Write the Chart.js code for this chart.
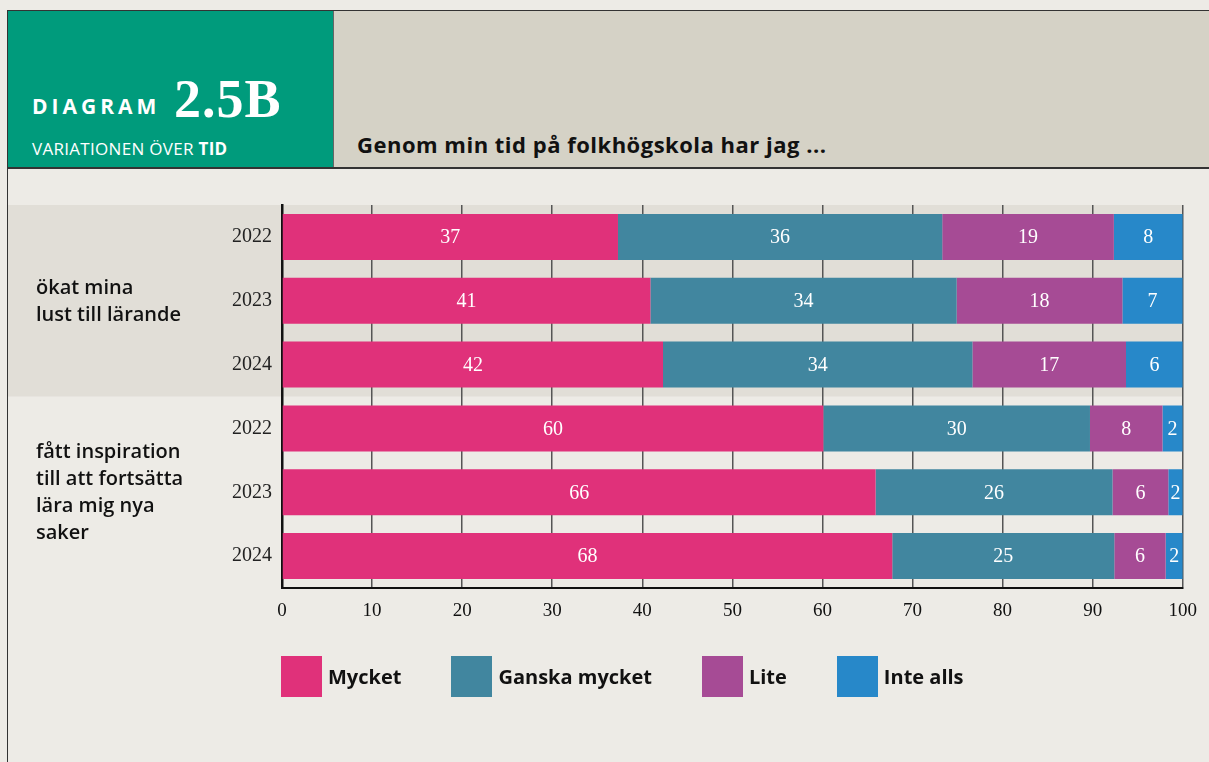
<!DOCTYPE html>
<html>
<head>
<meta charset="utf-8">
<script src="https://cdn.jsdelivr.net/npm/chart.js@4.4.1/dist/chart.umd.min.js"></script>
<style>
  html, body { margin: 0; padding: 0; }
  body { width: 1209px; height: 762px; background: #edebe6; position: relative; overflow: hidden; font-family: 'Open Sans', sans-serif; }
  #frame { position: absolute; left: 7px; top: 10px; width: 1230px; height: 780px; border: 1px solid #333; box-sizing: border-box; }
  #badge { position: absolute; left: 8px; top: 11px; width: 325px; height: 156px; background: #009b7c; color: #fff; }
  #head { position: absolute; left: 333px; top: 11px; width: 900px; height: 156px; background: #d5d2c6; border-left: 1px solid #666; }
  #headline { position: absolute; left: 7px; right: 0; top: 167px; height: 2px; background: #333; }
  .diag { position: absolute; left: 24px; top: 81px; font: 700 21px 'Open Sans'; letter-spacing: 4px; }
  .num { position: absolute; left: 166px; top: 57px; font: 700 54px 'Liberation Serif'; letter-spacing: 1px; }
  .sub { position: absolute; left: 24px; top: 126px; font: 400 17px 'Open Sans'; letter-spacing: 0.3px; }
  .sub b { font-weight: 700; }
  #title { position: absolute; left: 357px; top: 129px; font: 700 22px 'Open Sans'; letter-spacing: 0.5px; color: #111; }
  #wrap { position: absolute; left: 0; top: 0; width: 1209px; height: 762px; }
  #legend { position: absolute; left: 281px; top: 656px; display: flex; align-items: center; }
  .item { display: flex; align-items: center; margin-right: 50px; font: 700 20px 'Open Sans'; color: #111; }
  .item span.box { width: 41px; height: 41px; margin-right: 6px; }
</style>
</head>
<body>
<div id="wrap"><canvas id="chart" width="1209" height="762"></canvas></div>
<div id="frame"></div>
<div id="badge">
  <div class="diag">DIAGRAM</div>
  <div class="num">2.5B</div>
  <div class="sub">VARIATIONEN ÖVER <b>TID</b></div>
</div>
<div id="head"></div>
<div id="headline"></div>
<div id="title">Genom min tid på folkhögskola har jag ...</div>
<div id="legend"></div>

<script>
// Data (percent of respondents)
const years = ['2022', '2023', '2024', '2022', '2023', '2024'];
const groupNames = [['ökat mina', 'lust till lärande'], ['fått inspiration', 'till att fortsätta', 'lära mig nya', 'saker']];
const groupSizes = [3, 3];
const mycket = [37.3, 40.9, 42.3, 60.1, 65.9, 67.75];
const ganskaMycket = [36.0, 34.0, 34.35, 29.6, 26.3, 24.65];
const lite = [19.05, 18.4, 17.05, 8.05, 6.2, 5.7];
const inteAlls = [7.65, 6.7, 6.3, 2.25, 1.6, 1.9];
const seriesNames = ['Mycket', 'Ganska mycket', 'Lite', 'Inte alls'];
const seriesColors = ['#e0317a', '#41869f', '#a64b95', '#2788c9'];
const bandColors = ['#e1ded7', null];

// Background bands + group labels on the left
const groupPlugin = {
  id: 'groups',
  beforeDraw(chart) {
    const { ctx, chartArea } = chart;
    const y = chart.scales.y;
    let start = 0;
    groupSizes.forEach((n, g) => {
      if (bandColors[g]) {
        const top = y.getPixelForValue(start - 0.5);
        const bottom = y.getPixelForValue(start + n - 0.5);
        ctx.save();
        ctx.fillStyle = bandColors[g];
        ctx.fillRect(8, top, chartArea.right - 8, bottom - top);
        ctx.restore();
      }
      start += n;
    });
  },
  afterDraw(chart) {
    const { ctx } = chart;
    const y = chart.scales.y;
    let start = 0;
    ctx.save();
    ctx.font = '600 20px "Open Sans"';
    ctx.fillStyle = '#111';
    ctx.textBaseline = 'middle';
    groupSizes.forEach((n, g) => {
      const mid = (y.getPixelForValue(start) + y.getPixelForValue(start + n - 1)) / 2;
      const lines = groupNames[g];
      const lh = 27;
      lines.forEach((line, i) => {
        ctx.fillText(line, 36, mid + (i - (lines.length - 1) / 2) * lh + 1);
      });
      start += n;
    });
    ctx.restore();
  }
};

// White value labels in each segment
const valueLabels = {
  id: 'valueLabels',
  afterDatasetsDraw(chart) {
    const { ctx } = chart;
    ctx.save();
    ctx.font = '20px "Liberation Serif"';
    ctx.fillStyle = '#fff';
    ctx.textAlign = 'center';
    ctx.textBaseline = 'middle';
    chart.data.datasets.forEach((ds, i) => {
      chart.getDatasetMeta(i).data.forEach((bar, j) => {
        ctx.fillText(Math.round(ds.data[j]), (bar.x + bar.base) / 2, bar.y + 1);
      });
    });
    ctx.restore();
  }
};

const seriesData = [mycket, ganskaMycket, lite, inteAlls];

const chart = new Chart(document.getElementById('chart'), {
  type: 'bar',
  data: {
    labels: years,
    datasets: seriesNames.map((name, i) => ({
      label: name,
      data: seriesData[i],
      backgroundColor: seriesColors[i],
      borderWidth: 0,
      barPercentage: 0.72,
      categoryPercentage: 1
    }))
  },
  options: {
    indexAxis: 'y',
    responsive: false,
    animation: false,
    layout: { padding: { top: 205, right: 25, bottom: 134, left: 0 } },
    plugins: {
      legend: { display: false },
      tooltip: { enabled: false }
    },
    scales: {
      x: {
        stacked: true,
        min: 0,
        max: 100,
        ticks: { stepSize: 10, color: '#111', padding: 12, font: { family: 'Liberation Serif', size: 19 } },
        grid: { color: '#555', lineWidth: 1.5, drawTicks: false },
        border: { color: '#111', width: 2 },
        afterFit: s => { s.height = 40; }
      },
      y: {
        stacked: true,
        ticks: { color: '#222', padding: 10, font: { family: 'Liberation Serif', size: 20 } },
        grid: { display: false, drawTicks: false },
        border: { color: '#111', width: 2.5 },
        afterFit: s => { s.width = 282; }
      }
    }
  },
  plugins: [groupPlugin, valueLabels]
});

// Legend built from the datasets
const legend = document.getElementById('legend');
chart.data.datasets.forEach(ds => {
  const item = document.createElement('div');
  item.className = 'item';
  item.innerHTML = `<span class="box" style="background:${ds.backgroundColor}"></span><span>${ds.label}</span>`;
  legend.appendChild(item);
});
</script>
</body>
</html>
